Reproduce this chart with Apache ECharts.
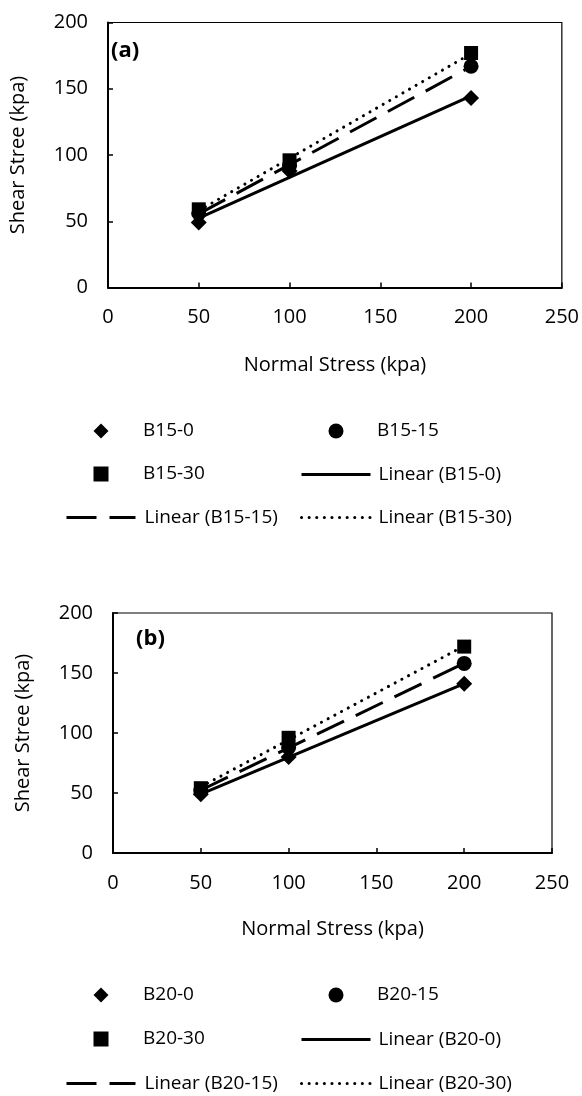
<!DOCTYPE html>
<html>
<head>
<meta charset="utf-8">
<script src="https://cdn.jsdelivr.net/npm/echarts@6/dist/echarts.min.js"></script>
<style>
  html, body { margin: 0; padding: 0; background: #fff; }
  #chart { width: 582px; height: 1096px; }
</style>
</head>
<body>
<div id="chart"></div>
<script>
// Normal stress levels (kPa)
const normalStress = [50, 100, 200];

// Panel (a): B15 mixes, shear stress (kPa)
const b15_0 = [49, 88, 143];
const b15_15 = [56, 92, 167];
const b15_30 = [59, 96, 177];

// Panel (b): B20 mixes, shear stress (kPa)
const b20_0 = [49, 80, 141];
const b20_15 = [52, 88, 158];
const b20_30 = [54, 96, 172];

const xTicks = [0, 50, 100, 150, 200, 250];
const yTicks = [0, 50, 100, 150, 200];

const FONT = '"Open Sans", "Noto Sans", sans-serif';

// Least-squares trend line through the measured points, drawn over the data range
function linearFit(xs, ys) {
  const n = xs.length;
  const mx = xs.reduce((a, b) => a + b, 0) / n;
  const my = ys.reduce((a, b) => a + b, 0) / n;
  let sxy = 0, sxx = 0;
  for (let i = 0; i < n; i++) {
    sxy += (xs[i] - mx) * (ys[i] - my);
    sxx += (xs[i] - mx) * (xs[i] - mx);
  }
  const k = sxy / sxx, b = my - k * mx;
  const x0 = Math.min(...xs), x1 = Math.max(...xs);
  return [[x0, k * x0 + b], [x1, k * x1 + b]];
}

const pts = (ys) => normalStress.map((x, i) => [x, ys[i]]);

const markerDefs = [
  { symbol: 'diamond', size: 16 },
  { symbol: 'circle', size: 15 },
  { symbol: 'rect', size: 14 }
];
const lineDefs = [
  { type: 'solid', cap: 'butt' },
  { type: [30, 13], cap: 'butt' },
  { type: [0.1, 7.5], cap: 'round' }
];

function panelSeries(idx, names, sets) {
  const out = [];
  sets.forEach((ys, i) => {
    out.push({
      name: names[i], type: 'scatter', xAxisIndex: idx, yAxisIndex: idx,
      symbol: markerDefs[i].symbol, symbolSize: markerDefs[i].size,
      itemStyle: { color: '#000', opacity: 1 }, data: pts(ys), z: 3
    });
  });
  sets.forEach((ys, i) => {
    out.push({
      name: 'Linear (' + names[i] + ')', type: 'line', xAxisIndex: idx, yAxisIndex: idx,
      symbol: 'none', silent: true, color: '#000',
      itemStyle: { color: '#000' },
      lineStyle: { color: '#000', width: 3, type: lineDefs[i].type, cap: lineDefs[i].cap },
      data: linearFit(normalStress, ys), z: 2
    });
  });
  return out;
}

function axisPair(idx, xNameGap, yNameGap) {
  return {
    x: {
      type: 'value', gridIndex: idx, min: 0, max: 250, interval: 50,
      name: 'Normal Stress (kpa)', nameLocation: 'middle', nameGap: xNameGap,
      nameTextStyle: { fontFamily: FONT, fontSize: 20, color: '#000' },
      axisLine: { show: true, lineStyle: { color: '#000', width: 2 } },
      axisTick: { show: true, inside: true, length: 5, lineStyle: { color: '#000', width: 1.5 } },
      axisLabel: { fontFamily: FONT, fontSize: 20, color: '#000', margin: 20,
        formatter: (v) => xTicks.includes(v) ? String(v) : '' },
      splitLine: { show: false }
    },
    y: {
      type: 'value', gridIndex: idx, min: 0, max: 200, interval: 50,
      name: 'Shear Stree (kpa)', nameLocation: 'middle', nameGap: yNameGap,
      nameTextStyle: { fontFamily: FONT, fontSize: 20, color: '#000' },
      axisLine: { show: true, lineStyle: { color: '#000', width: 2 } },
      axisTick: { show: true, inside: true, length: 5, lineStyle: { color: '#000', width: 1.5 } },
      axisLabel: { fontFamily: FONT, fontSize: 20, color: '#000', margin: 20,
        formatter: (v) => yTicks.includes(v) ? String(v) : '' },
      splitLine: { show: false }
    }
  };
}

// Two-column legend block: markers in the first rows, trend lines after them
function legendItems(names, topRow, rowGap) {
  const items = [
    { name: names[0], col: 0, row: 0, marker: true },
    { name: names[1], col: 1, row: 0, marker: true },
    { name: names[2], col: 0, row: 1, marker: true },
    { name: 'Linear (' + names[0] + ')', col: 1, row: 1, marker: false, dash: 0 },
    { name: 'Linear (' + names[1] + ')', col: 0, row: 2, marker: false, dash: 1 },
    { name: 'Linear (' + names[2] + ')', col: 1, row: 2, marker: false, dash: 2 }
  ];
  const markerCenter = [101, 336];
  const lineLeft = [65, 300];
  const textLeft = [143, 377];
  const rowH = 20;
  return items.map((it) => {
    const top = topRow + it.row * rowGap;
    if (it.marker) {
      const s = 15;
      const left = markerCenter[it.col] - s / 2;
      return {
        data: [it.name], left: left, top: top + (rowH - s) / 2,
        itemWidth: s, itemHeight: s, selectedMode: false, padding: 0,
        itemStyle: { color: '#000', opacity: 1 },
        textStyle: { fontFamily: FONT, fontSize: 19, color: '#000',
          padding: [0, 0, 0, textLeft[it.col] - (left + s + 5)] }
      };
    }
    const w = 69;
    return {
      data: [it.name], left: lineLeft[it.col], top: top + 3,
      itemWidth: w, itemHeight: 14, selectedMode: false, padding: 0,
      itemStyle: { opacity: 0 },
      lineStyle: { color: '#000', width: 3, type: lineDefs[it.dash].type, cap: lineDefs[it.dash].cap },
      textStyle: { fontFamily: FONT, fontSize: 19, color: '#000',
        padding: [0, 0, 0, textLeft[it.col] - (lineLeft[it.col] + w + 5)] }
    };
  });
}

const a = axisPair(0, 68, 80), b = axisPair(1, 66, 80);

const namesA = ['B15-0', 'B15-15', 'B15-30'];
const namesB = ['B20-0', 'B20-15', 'B20-30'];

const chart = echarts.init(document.getElementById('chart'), null, { renderer: 'canvas' });
chart.setOption({
  animation: false,
  backgroundColor: '#fff',
  grid: [
    { left: 102, right: 20, top: 22.5, height: 265, show: true, borderColor: '#000', borderWidth: 1.2 },
    { left: 113, right: 30, top: 613, height: 240, show: true, borderColor: '#000', borderWidth: 1.2 }
  ],
  xAxis: [a.x, b.x],
  yAxis: [a.y, b.y],
  graphic: [
    { type: 'text', left: 111, top: 40, style: { text: '(a)', font: 'bold 22px ' + FONT, fill: '#000' } },
    { type: 'text', left: 136, top: 628, style: { text: '(b)', font: 'bold 22px ' + FONT, fill: '#000' } }
  ],
  legend: legendItems(namesA, 419, 43).concat(legendItems(namesB, 983, 44)),
  series: panelSeries(0, namesA, [b15_0, b15_15, b15_30])
    .concat(panelSeries(1, namesB, [b20_0, b20_15, b20_30]))
});
</script>
</body>
</html>
